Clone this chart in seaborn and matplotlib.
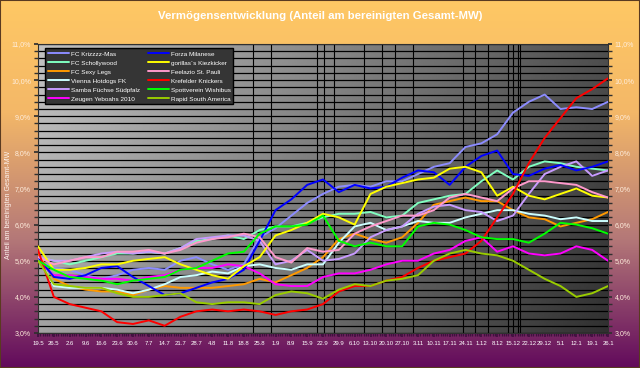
import numpy as np
import pandas as pd
import seaborn as sns
import matplotlib.pyplot as plt
from matplotlib.colors import LinearSegmentedColormap
from matplotlib.ticker import MultipleLocator, FuncFormatter

# --- data (share of adjusted total market value, in %) ---
# one sample per week, day offsets from 19.5.
sample_day = list(range(0, 253, 7))

week_labels = ['19.5', '26.5', '2.6', '9.6', '16.6', '23.6', '30.6', '7.7', '14.7', '21.7',
               '28.7', '4.8', '11.8', '18.8', '25.8', '1.9', '8.9', '15.9', '22.9', '29.9',
               '6.10', '13.10', '20.10', '27.10', '3.11', '10.11', '17.11', '24.11', '1.12',
               '8.12', '15.12', '22.12', '29.12', '5.1', '12.1', '19.1', '26.1']

# days with a black vertical marker line
marker_days = [95, 103, 123.5, 126.5, 131, 144, 152, 158, 166, 188, 193, 199, 208, 210, 212, 213]

krizzzz_mas = [5.0, 4.8, 4.75, 4.6, 4.5, 4.6, 4.75, 4.8, 4.75, 5.0, 5.1, 4.9, 4.75, 4.9, 5.65, 5.9,
               6.25, 6.6, 6.85, 7.05, 7.1, 7.05, 7.2, 7.2, 7.4, 7.6, 7.7, 8.15, 8.25, 8.5, 9.1, 9.4,
               9.6, 9.2, 9.25, 9.2, 9.4]
schollywood = [5.1, 5.0, 4.9, 5.0, 5.1, 5.2, 5.2, 5.25, 5.2, 5.35, 5.55, 5.6, 5.7, 5.6, 5.85, 5.95,
               5.95, 6.05, 6.2, 6.3, 6.3, 6.35, 6.2, 6.25, 6.6, 6.7, 6.8, 6.85, 7.2, 7.5, 7.25, 7.6,
               7.75, 7.7, 7.6, 7.55, 7.5]
sexy_legs = [5.2, 4.5, 4.3, 4.2, 4.15, 4.15, 4.05, 4.2, 4.3, 4.25, 4.25, 4.25, 4.3, 4.35, 4.5, 4.4,
             4.6, 4.8, 5.1, 5.6, 5.75, 5.6, 5.5, 5.65, 6.05, 6.55, 6.65, 6.75, 6.65, 6.65, 6.4, 6.2,
             6.15, 5.95, 6.05, 6.15, 6.35]
vienna_hotdogs = [5.1, 4.3, 4.25, 4.25, 4.25, 4.2, 4.1, 4.2, 4.35, 4.55, 4.6, 4.7, 4.65, 4.85, 4.9,
                  4.8, 4.75, 4.9, 4.9, 5.5, 5.95, 6.05, 5.85, 5.95, 6.1, 6.05, 6.05, 6.2, 6.3, 6.4,
                  6.4, 6.3, 6.25, 6.15, 6.2, 6.1, 6.1]
samba_fuechse = [5.1, 5.0, 5.0, 5.1, 5.2, 5.25, 5.2, 5.25, 5.2, 5.35, 5.6, 5.65, 5.7, 5.7, 5.55, 4.9,
                 5.0, 5.3, 5.0, 5.05, 5.2, 5.65, 5.85, 5.95, 6.3, 6.5, 6.55, 6.4, 6.35, 6.1, 6.25,
                 6.85, 7.4, 7.6, 7.75, 7.35, 7.5]
zeugen_yeboahs = [5.0, 4.6, 4.6, 4.55, 4.5, 4.5, 4.45, 4.55, 4.6, 4.75, 4.8, 4.8, 4.9, 4.85, 4.65,
                  4.35, 4.3, 4.3, 4.55, 4.65, 4.65, 4.75, 4.9, 5.0, 5.0, 5.2, 5.3, 5.55, 5.65, 5.25,
                  5.4, 5.2, 5.15, 5.2, 5.4, 5.3, 5.0]
forza_milanese = [5.1, 4.55, 4.5, 4.6, 4.8, 4.85, 4.55, 4.3, 4.05, 4.1, 4.25, 4.4, 4.5, 4.75, 5.55,
                  6.4, 6.7, 7.1, 7.25, 6.9, 7.1, 7.0, 7.05, 7.3, 7.5, 7.45, 7.1, 7.6, 7.9, 8.05, 7.4,
                  7.35, 7.55, 7.65, 7.5, 7.6, 7.75]
gorillas = [5.4, 4.75, 4.75, 4.8, 4.9, 4.9, 5.0, 5.05, 5.1, 4.9, 4.75, 4.6, 4.5, 4.85, 5.1, 5.7,
            5.85, 6.05, 6.3, 6.2, 6.0, 6.85, 7.05, 7.15, 7.25, 7.3, 7.55, 7.6, 7.45, 6.8, 7.05, 6.8,
            6.7, 6.85, 7.0, 6.8, 6.75]
feelazio = [5.1, 4.9, 5.0, 5.1, 5.1, 5.25, 5.25, 5.3, 5.2, 5.3, 5.5, 5.6, 5.65, 5.75, 5.65, 5.1,
            4.95, 5.35, 5.25, 5.3, 5.75, 5.95, 6.1, 6.25, 6.25, 6.4, 6.75, 6.85, 6.75, 6.65, 7.0,
            7.2, 7.2, 7.15, 7.1, 6.9, 6.75]
krefelder = [5.3, 4.0, 3.8, 3.7, 3.6, 3.3, 3.25, 3.35, 3.2, 3.45, 3.6, 3.65, 3.6, 3.65, 3.6, 3.5,
             3.6, 3.65, 3.8, 4.15, 4.3, 4.3, 4.45, 4.55, 4.8, 5.0, 5.1, 5.2, 5.55, 6.2, 6.85, 7.7,
             8.4, 8.95, 9.5, 9.75, 10.05]
spottverein = [5.0, 4.75, 4.55, 4.5, 4.45, 4.35, 4.45, 4.5, 4.55, 4.75, 4.8, 5.0, 5.2, 5.25, 5.75,
               5.95, 5.95, 6.0, 6.25, 5.55, 5.4, 5.5, 5.4, 5.4, 5.95, 6.05, 6.0, 5.85, 5.65, 5.6,
               5.6, 5.5, 5.75, 6.05, 6.0, 5.9, 5.75]
rapid_sa = [5.0, 4.35, 4.3, 4.25, 4.25, 4.1, 4.0, 4.0, 4.05, 4.1, 3.85, 3.8, 3.85, 3.85, 3.8, 4.05,
            4.15, 4.1, 3.95, 4.2, 4.35, 4.3, 4.45, 4.5, 4.6, 5.0, 5.2, 5.3, 5.2, 5.15, 5.0, 4.75,
            4.5, 4.3, 4.0, 4.1, 4.3]

# legend order: first column, then second column
teams = ['FC Krizzzz-Mas', 'FC Schollywood', 'FC Sexy Legs', 'Vienna Hotdogs FK',
         'Samba Füchse Südpfalz', 'Zeugen Yeboahs 2010', 'Forza Milanese',
         'gorillas´s Kiezkicker', 'Feelazio St. Pauli', 'Krefelder Knickers',
         'Spottverein Wishibus', 'Rapid South America']
series = [krizzzz_mas, schollywood, sexy_legs, vienna_hotdogs, samba_fuechse, zeugen_yeboahs,
          forza_milanese, gorillas, feelazio, krefelder, spottverein, rapid_sa]
team_colors = ['#8C8CFF', '#80FFC0', '#FF9900', '#CCFFFF', '#C89BFF', '#FF00FF',
               '#0000FF', '#FFFF00', '#FF99CC', '#FF0000', '#00FF00', '#99CC00']

df = pd.DataFrame({
    'day': sample_day * len(teams),
    'team': [t for t in teams for _ in sample_day],
    'share': [v for s in series for v in s],
})

# --- figure ---
sns.set_theme(style='white')
plt.rcParams['font.family'] = ['Liberation Sans', 'DejaVu Sans']

fig = plt.figure(figsize=(6.4, 3.68), dpi=100)

# orange -> purple page background
bg_cmap = LinearSegmentedColormap.from_list(
    'page', [(0.0, '#FFC864'), (0.3, '#F4B868'), (0.65, '#B47878'), (1.0, '#620A5C')])
bg = fig.add_axes([0, 0, 1, 1], zorder=-10)
bg.imshow(np.linspace(0, 1, 256)[:, None], aspect='auto', cmap=bg_cmap, extent=[0, 1, 0, 1])
bg.axis('off')

pos = [38 / 640, 35 / 368, 570 / 640, 289 / 368]

# grey plot area, light at the left, dark at the right
shade_ax = fig.add_axes(pos, zorder=-5)
gx, gy = np.meshgrid(np.linspace(0, 1, 300), np.linspace(1, 0, 150))
shade = 0.76 - 0.45 * gx - 0.12 * (1 - gy)
shade_ax.imshow(shade, cmap='gray', vmin=0, vmax=1, aspect='auto', extent=[0, 1, 0, 1])
shade_ax.axis('off')

ax = fig.add_axes(pos)
ax.set_facecolor('none')

sns.lineplot(data=df, x='day', y='share', hue='team', hue_order=teams,
             palette=dict(zip(teams, team_colors)), linewidth=1.4, ax=ax, zorder=3)

ax.set_xlim(0, 252)
ax.set_ylim(3, 11)

ax.yaxis.set_major_locator(MultipleLocator(1))
ax.yaxis.set_minor_locator(MultipleLocator(0.2))
ax.yaxis.set_major_formatter(FuncFormatter(lambda v, p: f'{v:.1f}%'.replace('.', ',')))
ax.grid(axis='y', which='both', color='black', linewidth=0.9, zorder=1)
for d in marker_days:
    ax.axvline(d, color='black', linewidth=0.8, zorder=1)

ax.set_xticks(sample_day)
ax.set_xticklabels(week_labels)
ax.xaxis.set_minor_locator(MultipleLocator(1))
ax.tick_params(axis='x', which='major', labelsize=4.3, colors='white', length=3, pad=3)
ax.tick_params(axis='x', which='minor', length=2, color='#401040', bottom=True)
ax.tick_params(axis='x', which='major', color='#401040', bottom=True)
ax.tick_params(axis='y', which='both', left=True, right=True, labelleft=True, labelright=True,
               labelsize=5, labelcolor='#FFEEDD', color='#303030', length=3, pad=2)
for side in ['left', 'right', 'bottom', 'top']:
    ax.spines[side].set_color('#303030')
    ax.spines[side].set_linewidth(0.8)

ax.set_xlabel('')
ax.set_ylabel('')
fig.text(9 / 640, 1 - 205 / 368, 'Anteil am bereinigten Gesamt-MW', rotation=90,
         color='#FFF4EE', fontsize=5, ha='center', va='center')
fig.text(0.5, 1 - 16 / 368, 'Vermögensentwicklung (Anteil am bereinigten Gesamt-MW)',
         color='white', fontsize=8.2, fontweight='bold', ha='center', va='center')

handles, labels = ax.get_legend_handles_labels()
leg = ax.legend(handles, labels, ncol=2, loc='upper left', bbox_to_anchor=(0.012, 0.985),
                fontsize=4.6, labelcolor='white', facecolor='#353535', edgecolor='black',
                framealpha=1, fancybox=False, handlelength=3.3, handletextpad=0.3,
                columnspacing=1.2, labelspacing=0.55, borderpad=0.45, borderaxespad=0)
leg.get_frame().set_linewidth(1.0)
leg.set_zorder(5)

# dark border round the whole picture
fig.patches.append(plt.Rectangle((0, 0), 1, 1, transform=fig.transFigure, fill=False,
                                 edgecolor='#5A3A20', linewidth=1.5))

fig.savefig('out.png', dpi=100)
